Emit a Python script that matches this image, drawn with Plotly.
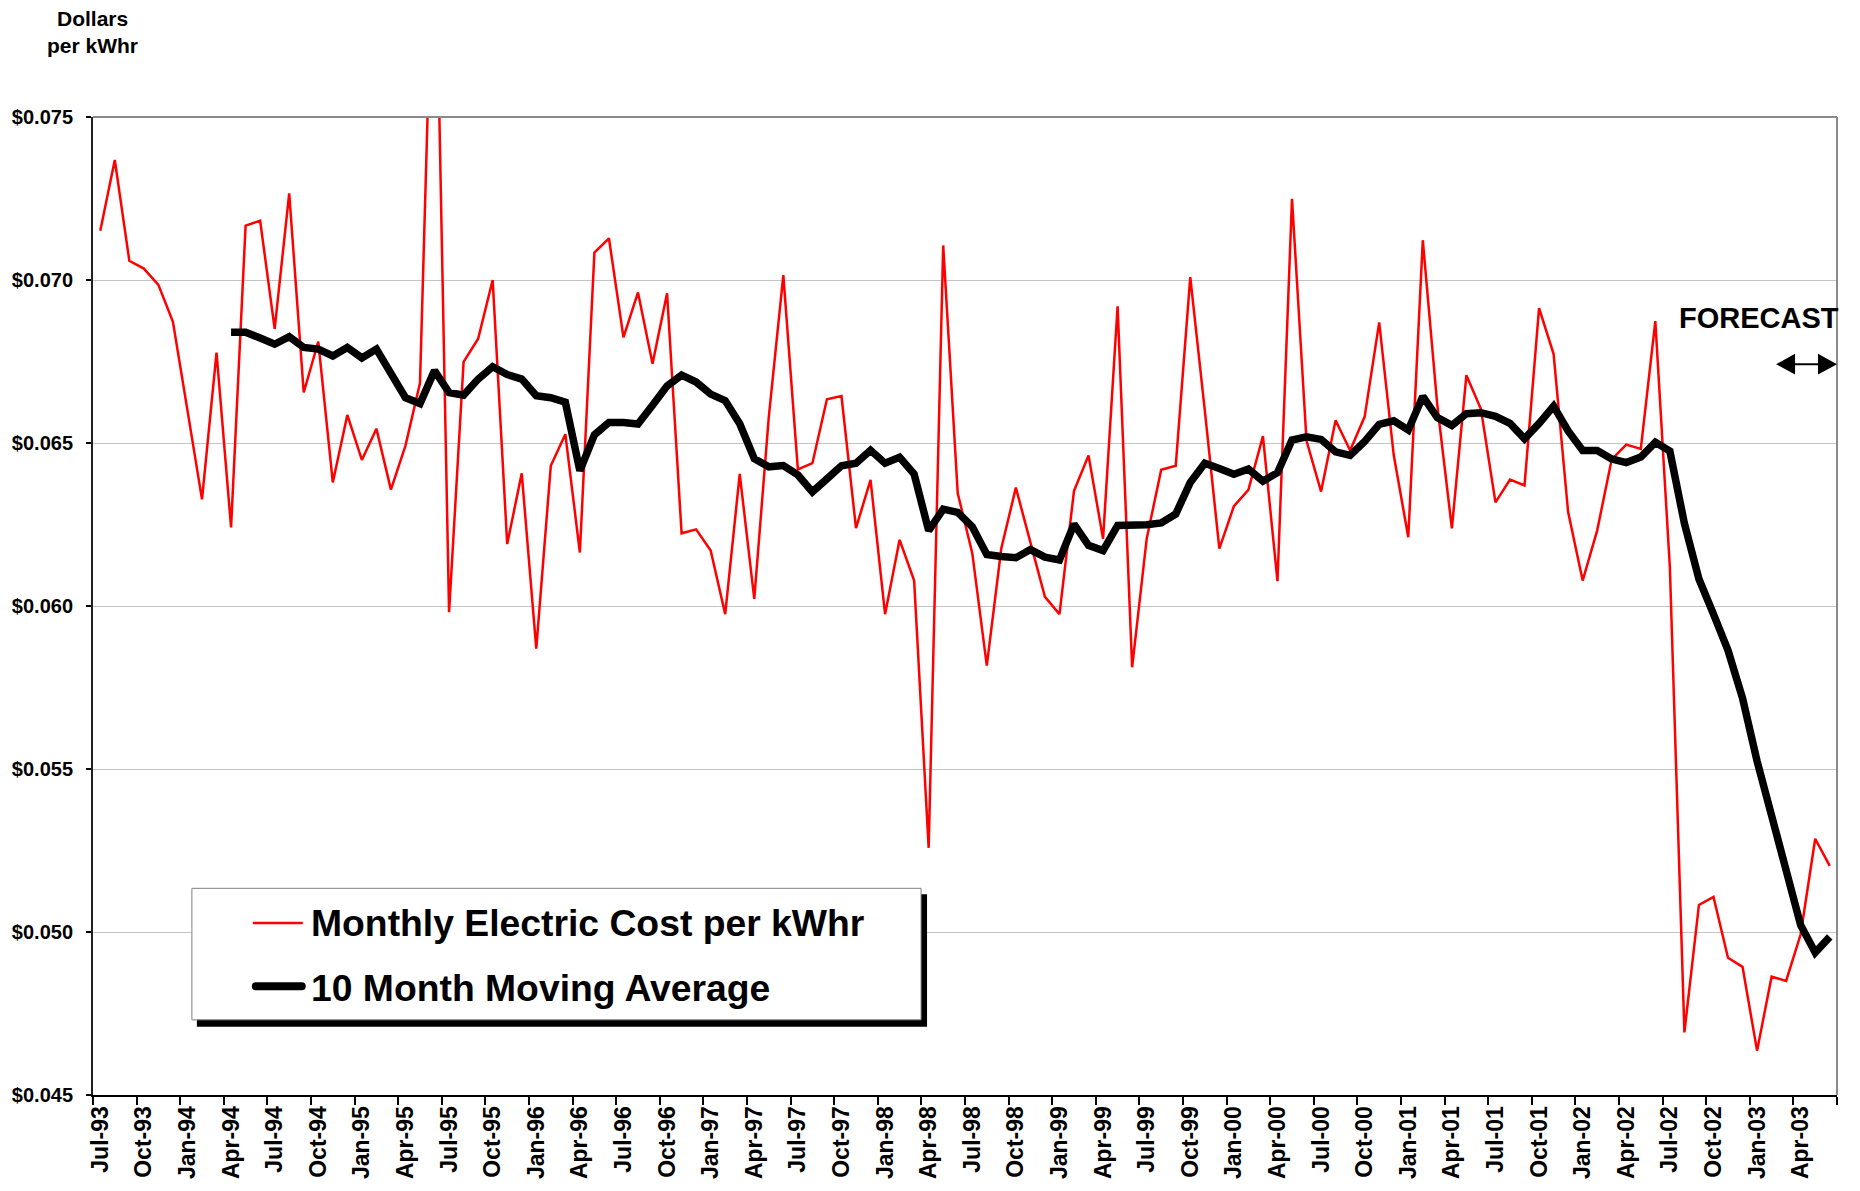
import plotly.graph_objects as go

# ---------------- data ----------------
month_names = ["Jan", "Feb", "Mar", "Apr", "May", "Jun",
               "Jul", "Aug", "Sep", "Oct", "Nov", "Dec"]
start_year, start_month, n_months = 1993, 7, 120
months = []
for k in range(n_months):
    m = (start_month - 1 + k) % 12
    y = start_year + (start_month - 1 + k) // 12
    months.append(f"{month_names[m]}-{y % 100:02d}")

monthly_cost = [
    0.07151, 0.07368, 0.07059, 0.07035, 0.06985, 0.06872, 0.06600, 0.06327, 0.06777, 0.06241,
    0.07167, 0.07182, 0.06850, 0.07266, 0.06655, 0.06811, 0.06379, 0.06586, 0.06448, 0.06544,
    0.06357, 0.06492, 0.06684, 0.08260, 0.05981, 0.06749, 0.06820, 0.07000, 0.06190, 0.06407,
    0.05869, 0.06430, 0.06527, 0.06164, 0.07084, 0.07128, 0.06824, 0.06962, 0.06743, 0.06959,
    0.06223, 0.06235, 0.06170, 0.05975, 0.06405, 0.06022, 0.06580, 0.07015, 0.06419, 0.06438,
    0.06634, 0.06644, 0.06239, 0.06387, 0.05975, 0.06203, 0.06078, 0.05258, 0.07106, 0.06346,
    0.06162, 0.05817, 0.06177, 0.06363, 0.06195, 0.06028, 0.05975, 0.06353, 0.06462, 0.06206,
    0.06919, 0.05812, 0.06206, 0.06418, 0.06430, 0.07009, 0.06600, 0.06176, 0.06306, 0.06356,
    0.06521, 0.06076, 0.07249, 0.06507, 0.06351, 0.06570, 0.06477, 0.06581, 0.06870, 0.06463,
    0.06211, 0.07122, 0.06615, 0.06238, 0.06708, 0.06604, 0.06318, 0.06388, 0.06370, 0.06914,
    0.06773, 0.06288, 0.06078, 0.06232, 0.06450, 0.06495, 0.06482, 0.06874, 0.06118, 0.04692,
    0.05083, 0.05108, 0.04921, 0.04893, 0.04636, 0.04863, 0.04850, 0.04993, 0.05286, 0.05203,
]

ma_start = 9
moving_avg = [
    0.06840, 0.06840, 0.06822, 0.06803, 0.06826, 0.06793, 0.06788, 0.06767, 0.06793, 0.06761,
    0.06788, 0.06708, 0.06639, 0.06621, 0.06722, 0.06655, 0.06647, 0.06696, 0.06734, 0.06710,
    0.06696, 0.06645, 0.06639, 0.06625, 0.06415, 0.06525, 0.06563, 0.06563, 0.06558, 0.06616,
    0.06675, 0.06708, 0.06687, 0.06650, 0.06630, 0.06559, 0.06452, 0.06427, 0.06431, 0.06402,
    0.06350, 0.06390, 0.06430, 0.06438, 0.06478, 0.06438, 0.06456, 0.06405, 0.06231, 0.06297,
    0.06287, 0.06243, 0.06158, 0.06152, 0.06148, 0.06173, 0.06150, 0.06141, 0.06251, 0.06186,
    0.06170, 0.06247, 0.06247, 0.06249, 0.06255, 0.06282, 0.06379, 0.06438, 0.06422, 0.06404,
    0.06420, 0.06383, 0.06409, 0.06509, 0.06519, 0.06511, 0.06473, 0.06462, 0.06505, 0.06557,
    0.06568, 0.06540, 0.06643, 0.06578, 0.06554, 0.06590, 0.06593, 0.06582, 0.06560, 0.06513,
    0.06560, 0.06613, 0.06537, 0.06477, 0.06477, 0.06451, 0.06440, 0.06457, 0.06502, 0.06475,
    0.06253, 0.06083, 0.05975, 0.05864, 0.05717, 0.05524, 0.05357, 0.05199, 0.05021, 0.04937,
    0.04985,
]

legend_labels = ["Monthly Electric Cost per kWhr", "10 Month Moving Average"]
y_title = ["Dollars", "per kWhr"]
forecast_label = "FORECAST"

# ---------------- layout geometry ----------------
W, H = 1860, 1191
L, R, T, B = 91, 23, 117, 85
PW, PH = W - L - R, H - T - B
FONT = "Liberation Sans, Arial, Helvetica, sans-serif"


def X(px):
    return (px - L) / PW


def Y(py):
    return (H - B - py) / PH


def capsule(x0, x1, yc, thick):
    """Rounded-end bar path (paper coords) for the legend sample."""
    r = thick / 2
    a, b = X(x0), X(x1)
    ra = r / PW
    yt, yb, ym = Y(yc - r), Y(yc + r), Y(yc)
    return (f"M{a + ra},{yt} L{b - ra},{yt} Q{b},{yt} {b},{ym} Q{b},{yb} {b - ra},{yb} "
            f"L{a + ra},{yb} Q{a},{yb} {a},{ym} Q{a},{yt} {a + ra},{yt} Z")


def tri(tip_x, base_x, yc, half):
    """Filled arrow-head triangle path (paper coords)."""
    return (f"M{X(tip_x)},{Y(yc)} L{X(base_x)},{Y(yc - half)} "
            f"L{X(base_x)},{Y(yc + half)} Z")


fig = go.Figure()
fig.add_trace(go.Scatter(
    x=months, y=monthly_cost, mode="lines", name=legend_labels[0],
    line=dict(color="#ff0000", width=2.5), showlegend=False))
fig.add_trace(go.Scatter(
    x=months[ma_start:], y=moving_avg, mode="lines", name=legend_labels[1],
    line=dict(color="#000000", width=7.5), showlegend=False))

arrow_y, arrow_l, arrow_r, head_len, head_half = 367, 1776, 1837, 19, 10.5
shapes = [
    # top and right frame (gray)
    dict(type="line", xref="paper", yref="paper", x0=0, x1=1, y0=1, y1=1,
         line=dict(color="#8a8a8a", width=2), layer="above"),
    dict(type="line", xref="paper", yref="paper", x0=1, x1=1, y0=0, y1=1,
         line=dict(color="#8a8a8a", width=2), layer="above"),
    # legend shadow + box
    dict(type="rect", xref="paper", yref="paper", x0=X(195), x1=X(926), y0=Y(1037), y1=Y(903),
         fillcolor="#000000", line=dict(width=0), layer="above"),
    dict(type="rect", xref="paper", yref="paper", x0=X(190), x1=X(920), y0=Y(1030), y1=Y(897),
         fillcolor="#ffffff", line=dict(color="#808080", width=1), layer="above"),
    # legend samples
    dict(type="line", xref="paper", yref="paper", x0=X(251), x1=X(301), y0=Y(932), y1=Y(932),
         line=dict(color="#ff0000", width=2.5), layer="above"),
    dict(type="path", xref="paper", yref="paper", path=capsule(250, 304, 996, 8),
         fillcolor="#000000", line=dict(width=0), layer="above"),
    # forecast double arrow
    dict(type="line", xref="paper", yref="paper", x0=X(arrow_l + 5), x1=X(arrow_r - 5),
         y0=Y(arrow_y), y1=Y(arrow_y), line=dict(color="#000000", width=2), layer="above"),
    dict(type="path", xref="paper", yref="paper",
         path=tri(arrow_l, arrow_l + head_len, arrow_y, head_half),
         fillcolor="#000000", line=dict(width=0), layer="above"),
    dict(type="path", xref="paper", yref="paper",
         path=tri(arrow_r, arrow_r - head_len, arrow_y, head_half),
         fillcolor="#000000", line=dict(width=0), layer="above"),
]

bold = dict(family=FONT, color="#000000", weight="bold")
annotations = [
    dict(text=legend_labels[0], xref="paper", yref="paper", x=X(307), y=Y(932),
         xanchor="left", yanchor="middle", showarrow=False, font=dict(size=37.3, **bold)),
    dict(text=legend_labels[1], xref="paper", yref="paper", x=X(307), y=Y(998),
         xanchor="left", yanchor="middle", showarrow=False, font=dict(size=37.3, **bold)),
    dict(text=y_title[0], xref="paper", yref="paper", x=X(90), y=Y(17),
         xanchor="center", yanchor="middle", showarrow=False, font=dict(size=21, **bold)),
    dict(text=y_title[1], xref="paper", yref="paper", x=X(90), y=Y(45),
         xanchor="center", yanchor="middle", showarrow=False, font=dict(size=21, **bold)),
    dict(text=forecast_label, xref="paper", yref="paper", x=X(1841), y=Y(320),
         xanchor="right", yanchor="middle", showarrow=False, font=dict(size=29, **bold)),
]

fig.update_layout(
    width=W, height=H,
    margin=dict(l=L, r=R, t=T, b=B, pad=0),
    paper_bgcolor="#ffffff", plot_bgcolor="#ffffff",
    font=dict(family=FONT, color="#000000"),
    shapes=shapes, annotations=annotations,
    showlegend=False,
)
fig.update_xaxes(
    type="category", categoryorder="array", categoryarray=months,
    range=[-0.5, n_months - 0.5],
    tickmode="linear", tick0=0, dtick=3, tickson="boundaries",
    ticks="outside", ticklen=8, tickwidth=2, tickcolor="#000000",
    tickangle=-90, tickfont=dict(size=23, **bold),
    showline=True, linecolor="#000000", linewidth=2,
    showgrid=False, zeroline=False,
)
fig.update_yaxes(
    range=[0.045, 0.075], tickmode="linear", tick0=0.045, dtick=0.005,
    tickformat="$.3f", ticks="outside", ticklen=5, tickwidth=2, tickcolor="#000000",
    tickfont=dict(size=20, **bold), ticklabelstandoff=9,
    showline=True, linecolor="#202020", linewidth=2,
    showgrid=True, gridcolor="#c4c4c4", gridwidth=1, zeroline=False,
)

fig.write_html(
    "out.html",
    config={"displayModeBar": False},
    post_script="document.body.style.margin='0px'; document.body.style.overflow='hidden';",
)
